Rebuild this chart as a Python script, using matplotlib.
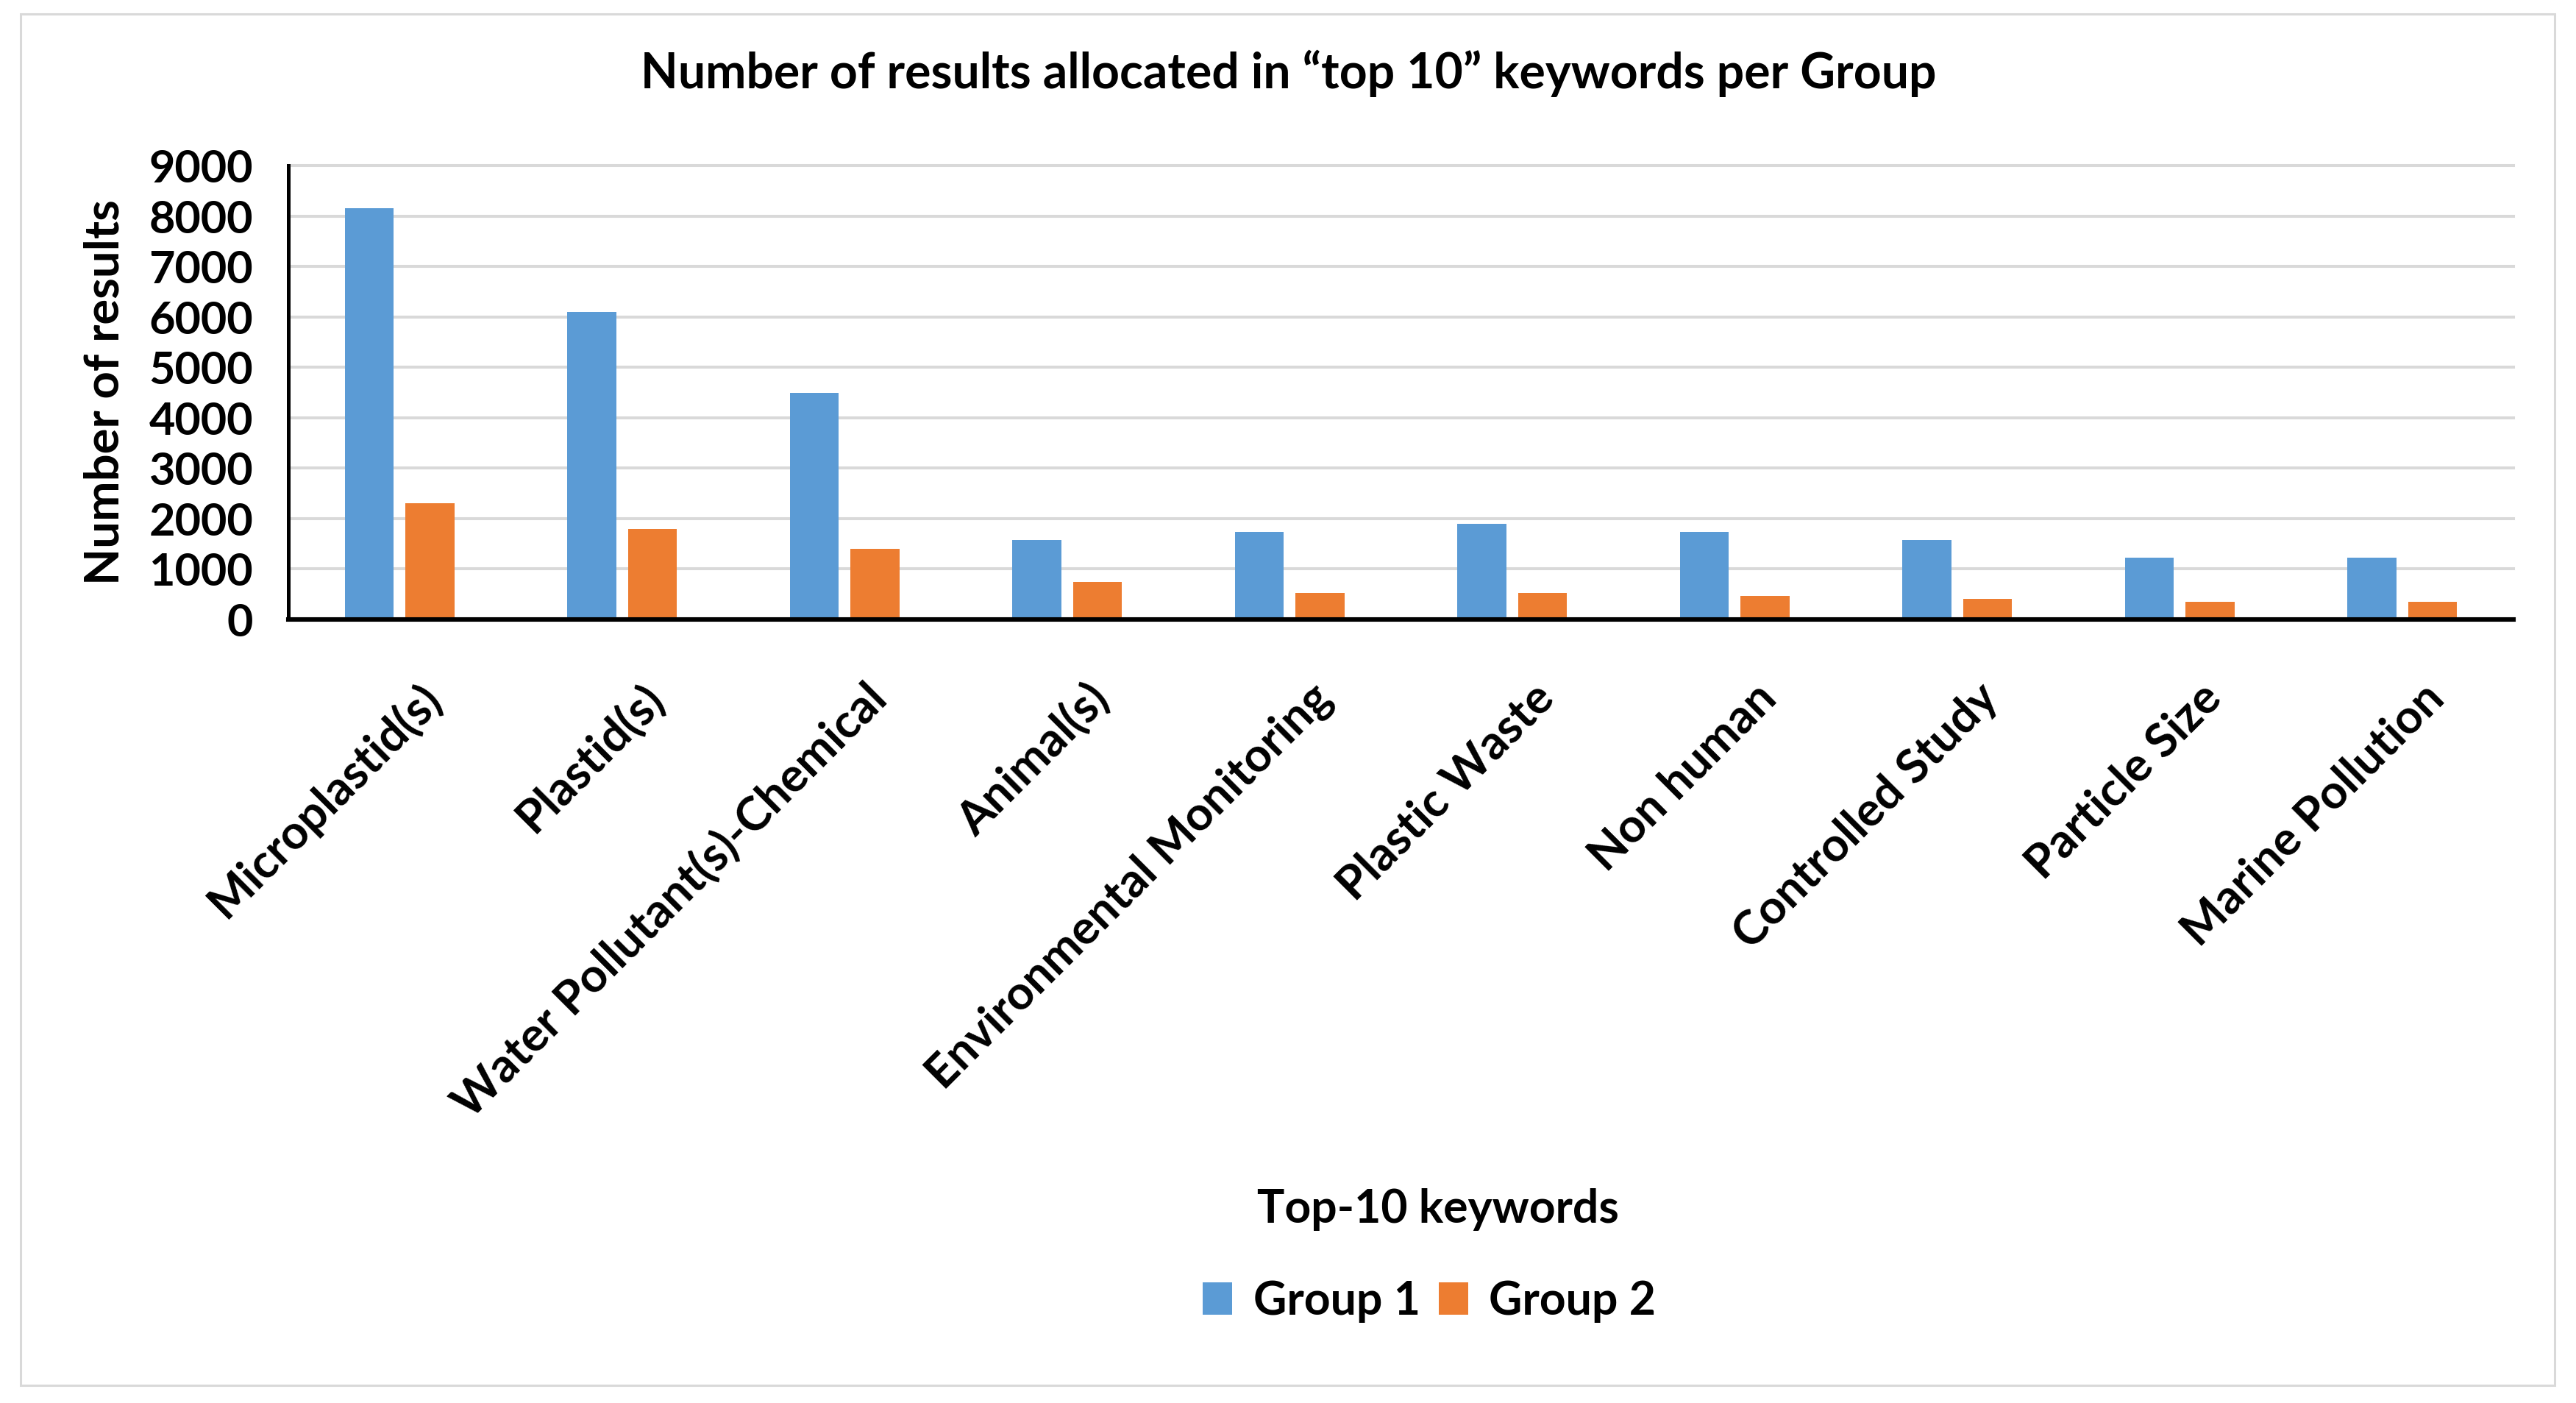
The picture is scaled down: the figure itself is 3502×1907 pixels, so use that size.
import matplotlib
matplotlib.use('Agg')
import matplotlib.pyplot as plt
import numpy as np
from matplotlib.transforms import ScaledTranslation
from matplotlib.patches import Rectangle

categories = ["Microplastid(s)", "Plastid(s)", "Water Pollutant(s)-Chemical", "Animal(s)",
              "Environmental Monitoring", "Plastic Waste", "Non human", "Controlled Study",
              "Particle Size", "Marine Pollution"]
group1 = [8150, 6100, 4500, 1570, 1730, 1900, 1730, 1570, 1230, 1230]
group2 = [2300, 1800, 1400, 740, 520, 520, 460, 410, 350, 350]
series_names = ["Group 1", "Group 2"]
yticks = list(range(0, 9001, 1000))
title = "Number of results allocated in \u201ctop 10\u201d keywords per Group"
ylabel = "Number of results"
xlabel = "Top-10 keywords"

plt.rcParams['font.family'] = ['Lato', 'DejaVu Sans']

W, H, dpi = 3502, 1907, 100
fig = plt.figure(figsize=(W / dpi, H / dpi), dpi=dpi)
fig.patch.set_facecolor('white')

# outer frame
fig.patches.append(Rectangle((28 / W, 1 - 1883 / H), (3473 - 28) / W, (1883 - 19) / H,
                             transform=fig.transFigure, fill=False,
                             edgecolor='#D9D9D9', lw=2.2))

ax = fig.add_axes([392 / W, 1 - 842 / H, (3417 - 392) / W, (842 - 225) / H])
x = np.arange(len(categories))
bw = 0.22
ax.bar(x - 0.137, group1, bw, color='#5B9BD5', label=series_names[0], zorder=3)
ax.bar(x + 0.137, group2, bw, color='#ED7D31', label=series_names[1], zorder=3)
ax.set_xlim(-0.5, len(categories) - 0.5)
ax.set_ylim(0, 9000)
ax.set_yticks(yticks)
ax.yaxis.grid(True, color='#D9D9D9', lw=2.9)
for gl in ax.get_ygridlines():
    gl.set_clip_on(False)
ax.set_axisbelow(True)
for s in ['top', 'right']:
    ax.spines[s].set_visible(False)
ax.spines['left'].set_linewidth(3.6)
ax.spines['bottom'].set_linewidth(4.4)
ax.spines['left'].set_capstyle('projecting')
ax.spines['bottom'].set_capstyle('projecting')
ax.spines['left'].set_zorder(4)
ax.spines['bottom'].set_zorder(4)

ax.tick_params(axis='y', length=0, pad=34.5, labelsize=44)
for lbl in ax.get_yticklabels():
    lbl.set_fontweight('bold')

ax.set_xticks(x)
ax.set_xticklabels(categories, rotation=45, ha='right', va='center',
                   rotation_mode='anchor', fontsize=46, fontweight='bold')
ax.tick_params(axis='x', length=0, pad=70)
offset = ScaledTranslation(0.47, 0, fig.dpi_scale_trans)
for lbl in ax.get_xticklabels():
    lbl.set_transform(lbl.get_transform() + offset)

ax.set_ylabel(ylabel, fontsize=47, fontweight='bold')
ax.yaxis.set_label_coords((172 - 392) / (3417 - 392), 0.5)

fig.text(1752 / W, 1 - 100 / H, title, ha='center', va='center', fontsize=47.5,
         fontweight='bold')
fig.text(1955 / W, 1 - 1644 / H, xlabel, ha='center', va='center', fontsize=45,
         fontweight='bold')

handles, labels = ax.get_legend_handles_labels()
fig.legend(handles, labels, loc='center', bbox_to_anchor=(1943 / W, 1 - 1769 / H),
           ncol=2, frameon=False, prop={'weight': 'bold', 'size': 45},
           handlelength=0.65, handleheight=0.72, handletextpad=0.45,
           columnspacing=0.4, borderaxespad=0, borderpad=0)

fig.savefig('out.png', dpi=dpi, facecolor='white')
